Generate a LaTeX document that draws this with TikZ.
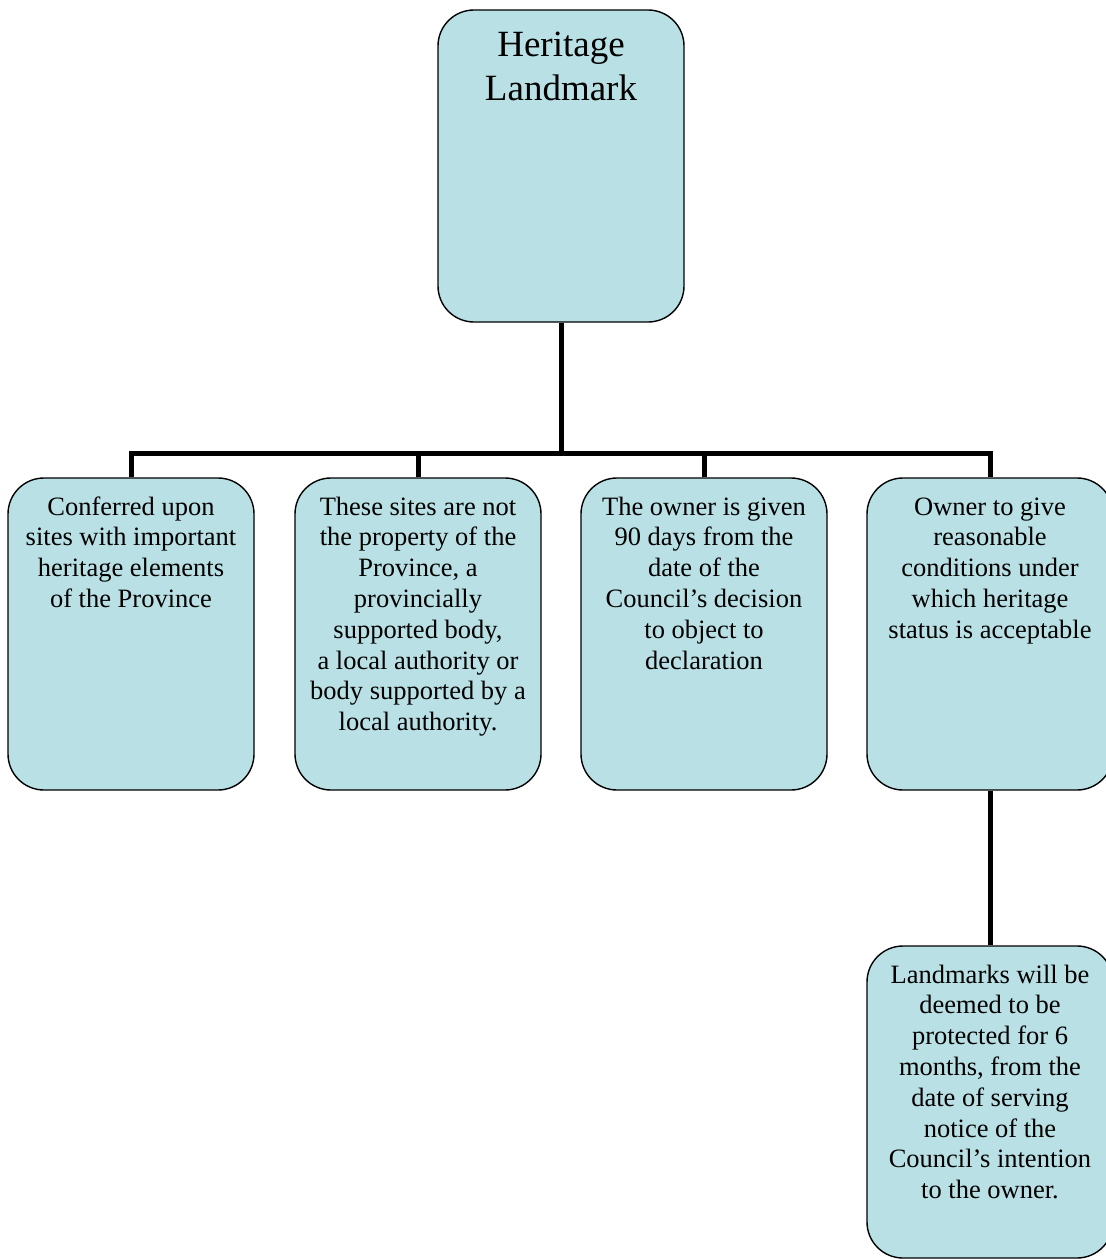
\documentclass[tikz,border=0pt]{standalone}
\usepackage{fontspec}
\setmainfont{Liberation Serif}
\definecolor{boxfill}{RGB}{185,224,228}
\begin{document}
\begin{tikzpicture}[x=1pt,y=-1pt,
  box/.style={draw=black,line width=1.4pt,fill=boxfill,rounded corners=36pt,
    minimum width=246pt,minimum height=312pt,inner sep=0pt},
  txt/.style={anchor=base,align=center,inner sep=0pt,
    font=\fontsize{26.5}{30.8}\selectfont},
  bigtxt/.style={anchor=base,align=center,inner sep=0pt,
    font=\fontsize{37}{44}\selectfont},
  conn/.style={line width=5pt,line cap=butt,line join=miter}]
\useasboundingbox (0,0) rectangle (1105,1260);
% boxes
\node[box] (top) at (561,166) {};
\node[box] (b1) at (131,634) {};
\node[box] (b2) at (418,634) {};
\node[box] (b3) at (704,634) {};
\node[box] (b4) at (990,634) {};
\node[box] (b5) at (990,1102) {};
\coordinate (bus) at (561,453);
% connectors
\draw[conn] (top.south) -- (bus);
\draw[conn] (b1.north) |- (bus) -| (b4.north);
\draw[conn] (b2.north) -- (b2.north |- bus);
\draw[conn] (b3.north) -- (b3.north |- bus);
\draw[conn] (b4.south) -- (b5.north);
% texts (anchored at the baseline of their last line)
\node[bigtxt] (ttop) at (561,101) {Heritage\\Landmark};
\node[txt] (t1) at (131,607.4) {Conferred upon\\sites with important\\heritage elements\\of the Province};
\node[txt] (t2) at (418,730.6) {These sites are not\\the property of the\\Province, a\\provincially\\supported body,\\a local authority or\\body supported by a\\local authority.};
\node[txt] (t3) at (704,669) {The owner is given\\90 days from the\\date of the\\Council’s decision\\to object to\\declaration};
\node[txt] (t4) at (990,638.2) {Owner to give\\reasonable\\conditions under\\which heritage\\status is acceptable};
\node[txt] (t5) at (990,1198.6) {Landmarks will be\\deemed to be\\protected for 6\\months, from the\\date of serving\\notice of the\\Council’s intention\\to the owner.};
\end{tikzpicture}
\end{document}
